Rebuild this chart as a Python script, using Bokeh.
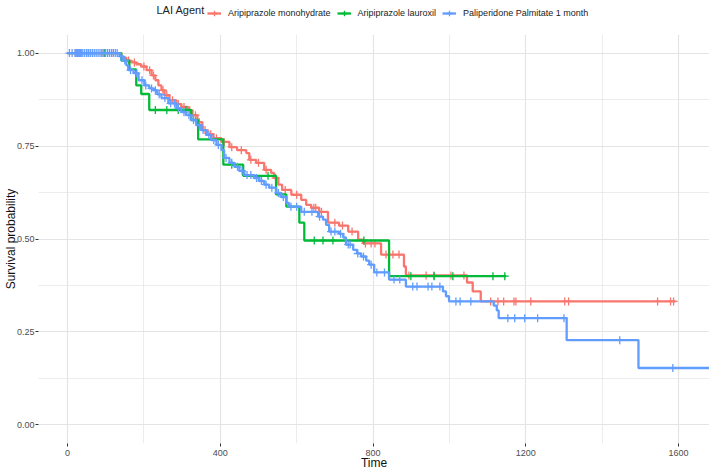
import numpy as np
from bokeh.plotting import figure
from bokeh.models import Legend, LegendItem, FixedTicker, Range1d, Label
from bokeh.layouts import column
from bokeh.embed import file_html
from bokeh.resources import INLINE

groups = ["Aripiprazole monohydrate", "Aripiprazole lauroxil", "Paliperidone Palmitate 1 month"]
colors = ["#F8766D", "#00BA38", "#619CFF"]
legend_title = "LAI Agent"

# Aripiprazole monohydrate
mono_times = [141, 154, 167, 180, 193, 207, 220, 230, 238, 246, 254, 267, 285, 298, 316, 327, 340, 353, 366, 382,
              403, 424, 444, 468, 476, 494, 515, 533, 541, 552, 562, 586, 612, 625, 638, 659, 682, 711, 735, 761,
              774, 821, 881, 886, 1046, 1061, 1082]
mono_surv = [0.988, 0.980, 0.975, 0.970, 0.964, 0.954, 0.940, 0.927, 0.913, 0.900, 0.887, 0.873, 0.863, 0.855,
             0.846, 0.833, 0.814, 0.793, 0.782, 0.771, 0.761, 0.747, 0.739, 0.731, 0.713, 0.705, 0.686, 0.678,
             0.664, 0.646, 0.632, 0.619, 0.605, 0.592, 0.584, 0.573, 0.544, 0.536, 0.520, 0.498, 0.488, 0.458,
             0.426, 0.402, 0.383, 0.359, 0.332]
mono_end = 1592
mono_cens = [20, 60, 90, 120, 160, 175, 200, 215, 225, 250, 260, 275, 290, 305, 320, 335, 345, 360, 375, 390,
             410, 430, 455, 480, 500, 520, 545, 570, 600, 645, 650, 665, 700, 720, 745, 780, 795, 805, 834, 852,
             868, 894, 939, 959, 1004, 1038, 1108, 1127, 1142, 1169, 1174, 1213, 1302, 1312, 1545, 1579, 1587]

# Aripiprazole lauroxil
laur_times = [141, 162, 180, 193, 214, 324, 342, 408, 460, 546, 573, 607, 620, 842]
laur_surv = [0.980, 0.956, 0.913, 0.890, 0.847, 0.820, 0.768, 0.700, 0.670, 0.620, 0.587, 0.544, 0.496, 0.400]
laur_end = 1148
laur_cens = [50, 97, 230, 260, 290, 310, 430, 525, 646, 669, 695, 776, 899, 960, 1009, 1114, 1145]

# Paliperidone Palmitate 1 month
pali_times = [136, 146, 154, 159, 173, 186, 201, 214, 225, 235, 246, 264, 285, 298, 311, 324, 337, 350, 363, 376,
              390, 403, 410, 424, 437, 450, 463, 489, 502, 515, 528, 546, 559, 573, 580, 612, 656, 669, 677, 685,
              711, 722, 729, 748, 758, 769, 782, 790, 803, 842, 886, 983, 991, 999, 1116, 1124, 1129, 1307, 1495]
pali_surv = [0.991, 0.980, 0.967, 0.954, 0.946, 0.927, 0.913, 0.905, 0.900, 0.889, 0.879, 0.865, 0.852, 0.841,
             0.833, 0.820, 0.806, 0.793, 0.780, 0.766, 0.753, 0.739, 0.718, 0.705, 0.694, 0.683, 0.672, 0.664,
             0.656, 0.646, 0.638, 0.624, 0.613, 0.597, 0.587, 0.573, 0.560, 0.552, 0.538, 0.520, 0.514, 0.504,
             0.485, 0.471, 0.461, 0.453, 0.442, 0.431, 0.410, 0.391, 0.372, 0.359, 0.346, 0.332, 0.321, 0.308,
             0.287, 0.228, 0.153]
pali_end = 1700
pali_cens = [5, 12, 20, 24, 26, 28, 30, 32, 34, 36, 40, 45, 50, 55, 60, 65, 70, 75, 80, 85, 90, 95, 100, 105, 110,
             115, 120, 125, 130, 140, 150, 165, 180, 195, 205, 220, 230, 240, 255, 270, 280, 290, 305, 318, 330,
             345, 355, 370, 383, 395, 415, 430, 445, 457, 470, 480, 495, 508, 520, 535, 552, 565, 585, 600, 620,
             640, 660, 690, 700, 715, 735, 740, 760, 775, 795, 810, 830, 855, 870, 904, 915, 944, 954, 975, 1017,
             1028, 1056, 1153, 1171, 1197, 1231, 1300, 1446, 1585]

x_ticks = [0, 400, 800, 1200, 1600]
x_minor = [200, 600, 1000, 1400]
y_ticks = [0.0, 0.25, 0.5, 0.75, 1.0]
y_minor = [0.125, 0.375, 0.625, 0.875]
y_labels = ["0.00", "0.25", "0.50", "0.75", "1.00"]

FONT = "Liberation Sans"
LINE_W = 2.3
CROSS_SIZE = 8
FL = 38  # expected left edge of the (aligned) plot frames, in page pixels

# ---------------- legend strip ----------------
top = figure(width=709, height=30, output_backend="svg", toolbar_location=None,
             x_range=Range1d(FL, 709), y_range=Range1d(0, 30),
             min_border_left=0, min_border_right=0, min_border_top=0, min_border_bottom=0)
top.axis.visible = False
top.grid.visible = False
top.outline_line_color = None
top.border_fill_color = "white"

items = []
for col, name in zip(colors, groups):
    # proxy renderers placed outside the strip's ranges; only their legend glyphs show
    l0 = top.step([-100, -90], [-100, -100], mode="after", line_color=col, line_width=LINE_W)
    s0 = top.scatter([-100], [-100], marker="cross", size=CROSS_SIZE, line_color=col, line_width=1.3)
    items.append(LegendItem(label=name, renderers=[l0, s0]))

legend = Legend(items=items, orientation="horizontal", location=(207 - FL, 10))
legend.border_line_color = None
legend.background_fill_alpha = 0
legend.label_text_font = FONT
legend.label_text_font_size = "9px"
legend.label_text_color = "#222222"
legend.label_standoff = 7
legend.glyph_width = 14
legend.glyph_height = 14
legend.spacing = 6
legend.padding = 4
legend.margin = 0
top.add_layout(legend, "center")

top.add_layout(Label(x=156, y=21, text=legend_title, text_font=FONT, text_font_size="11px",
                     text_baseline="middle", text_align="left", text_color="#222222"))

# ---------------- main panel ----------------
p = figure(width=709, height=442, output_backend="svg", toolbar_location=None,
           x_range=Range1d(-76, 1681), y_range=Range1d(-0.05, 1.05),
           x_axis_label="Time", y_axis_label="Survival probability",
           min_border_left=0, min_border_right=0, min_border_top=4, min_border_bottom=0)
p.outline_line_color = None
p.background_fill_color = "white"
p.border_fill_color = "white"

p.xaxis.ticker = FixedTicker(ticks=x_ticks, minor_ticks=x_minor)
p.yaxis.ticker = FixedTicker(ticks=y_ticks, minor_ticks=y_minor)
p.yaxis.major_label_overrides = dict(zip(y_ticks, y_labels))
for ax in (p.xaxis, p.yaxis):
    ax.axis_line_color = None
    ax.major_tick_line_color = "#333333"
    ax.major_tick_out = 3
    ax.major_tick_in = 0
    ax.minor_tick_line_color = None
    ax.major_label_text_font = FONT
    ax.major_label_text_font_size = "9px"
    ax.major_label_text_color = "#4D4D4D"
    ax.axis_label_text_font = FONT
    ax.axis_label_text_font_size = "12px"
    ax.axis_label_text_font_style = "normal"
    ax.axis_label_text_color = "#111111"
    ax.axis_label_text_line_height = 0.9
p.yaxis.major_label_standoff = 0
p.yaxis.axis_label_standoff = -4
p.xaxis.major_label_standoff = 2
p.xaxis.axis_label_standoff = -3

for g in (p.xgrid, p.ygrid):
    g.grid_line_color = "#E4E4E4"
    g.grid_line_width = 1.2
    g.minor_grid_line_color = "#E4E4E4"
    g.minor_grid_line_width = 0.7


def step_at(times, surv, t):
    idx = np.searchsorted(np.array(times), t, side="right")
    s = np.concatenate([[1.0], surv])
    return s[idx]


data = [(mono_times, mono_surv, mono_end, mono_cens),
        (laur_times, laur_surv, laur_end, laur_cens),
        (pali_times, pali_surv, pali_end, pali_cens)]
for (times, surv, end, cens), col in zip(data, colors):
    xs = [0] + list(times) + [end]
    ys = [1.0] + list(surv) + [surv[-1]]
    p.step(xs, ys, mode="after", line_color=col, line_width=LINE_W)
    cy = step_at(times, surv, np.array(cens))
    p.scatter(cens, cy, marker="cross", size=CROSS_SIZE, line_color=col, line_width=1.3)

layout = column(top, p, spacing=0)
open("out.html", "w").write(file_html(layout, INLINE))
